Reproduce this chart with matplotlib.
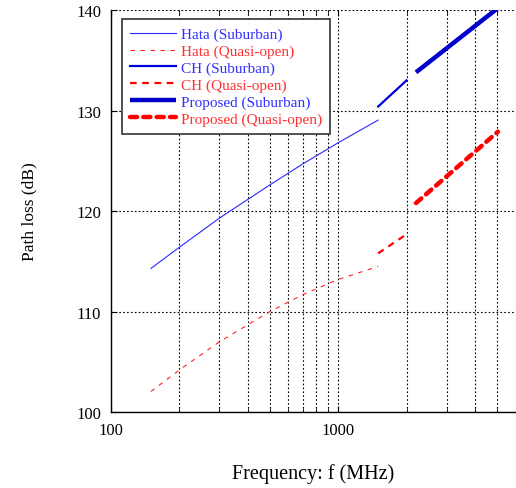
import numpy as np
import matplotlib
matplotlib.use("Agg")
import matplotlib.pyplot as plt
from matplotlib.ticker import FixedLocator, NullFormatter, FixedFormatter

plt.rcParams['font.family'] = ['Liberation Serif', 'DejaVu Serif']

# Data
f_hata = [150, 200, 300, 500, 700, 1000, 1500]
hata_sub = [114.3, 116.4, 119.3, 122.6, 124.7, 126.8, 129.05]
hata_qo = [102.06, 104.2, 107.0, 110.0, 111.7, 113.2, 114.5]

f_ch = [1500, 2000]
ch_sub = [130.4, 133.0]
ch_qo = [115.8, 117.7]

f_prop = [2200, 5050]
prop_sub = [133.8, 140.2]
prop_qo = [120.8, 127.9]

x_ticks = [100, 1000]
y_ticks = [100, 110, 120, 130, 140]

fig = plt.figure(figsize=(5.16, 4.89), dpi=100)
ax = fig.add_axes([0.215, 0.155, 0.783, 0.8225])

ax.plot(f_hata, hata_sub, color='#2828ff', lw=0.8, label='Hata (Suburban)')
ax.plot(f_hata, hata_qo, color='#ff2020', lw=0.8, ls=(0, (4, 5)), label='Hata (Quasi-open)')
ax.plot(f_ch, ch_sub, color='#0000dd', lw=1.6, label='CH (Suburban)')
ax.plot(f_ch, ch_qo, color='#ff0000', lw=1.6, ls=(0, (3, 2.5)), label='CH (Quasi-open)')
ax.plot(f_prop, prop_sub, color='#0000cc', lw=3.2, label='Proposed (Suburban)', solid_capstyle='butt')
ax.plot(f_prop, prop_qo, color='#ff0000', lw=3.2, ls=(0, (1.6, 1.4)), dash_capstyle='round',
        label='Proposed (Quasi-open)')

ax.set_xscale('log')
ax.set_xlim(100, 6000)
ax.set_ylim(100, 140)
ax.xaxis.set_major_locator(FixedLocator(x_ticks))
ax.xaxis.set_major_formatter(FixedFormatter([str(v) for v in x_ticks]))
minor = [200, 300, 400, 500, 600, 700, 800, 900, 2000, 3000, 4000, 5000]
ax.xaxis.set_minor_locator(FixedLocator(minor))
ax.xaxis.set_minor_formatter(NullFormatter())
ax.yaxis.set_major_locator(FixedLocator(y_ticks))

ax.grid(True, which='both', axis='x', color='black', ls=(0, (1.5, 2)), lw=0.8)
ax.grid(True, which='major', axis='y', color='black', ls=(0, (1.5, 2)), lw=0.8)
ax.spines['top'].set_visible(False)
ax.spines['right'].set_visible(False)
ax.spines['left'].set_linewidth(1.0)
ax.spines['bottom'].set_linewidth(1.0)
ax.tick_params(which='both', direction='in', top=True, labelsize=12, pad=7)
ax.tick_params(which='major', length=4)
ax.tick_params(which='minor', length=3)

ax.set_xlabel('Frequency: f (MHz)', fontsize=14.5, labelpad=18)
ax.set_ylabel('Path loss (dB)', fontsize=12.5, labelpad=28)

leg = ax.legend(loc='upper left', bbox_to_anchor=(0.027, 0.978), fontsize=11,
                frameon=True, fancybox=False, handlelength=3.0, handletextpad=0.3,
                labelspacing=0.2, borderpad=0.55, borderaxespad=0)
leg.get_frame().set_edgecolor('#333333')
leg.get_frame().set_linewidth(1.2)
leg.get_frame().set_alpha(1)
cols = ['#3030ff', '#ff3030', '#3030ff', '#ff3030', '#3030ff', '#ff3030']
for t, c in zip(leg.get_texts(), cols):
    t.set_color(c)

fig.savefig('out.png', dpi=100)
